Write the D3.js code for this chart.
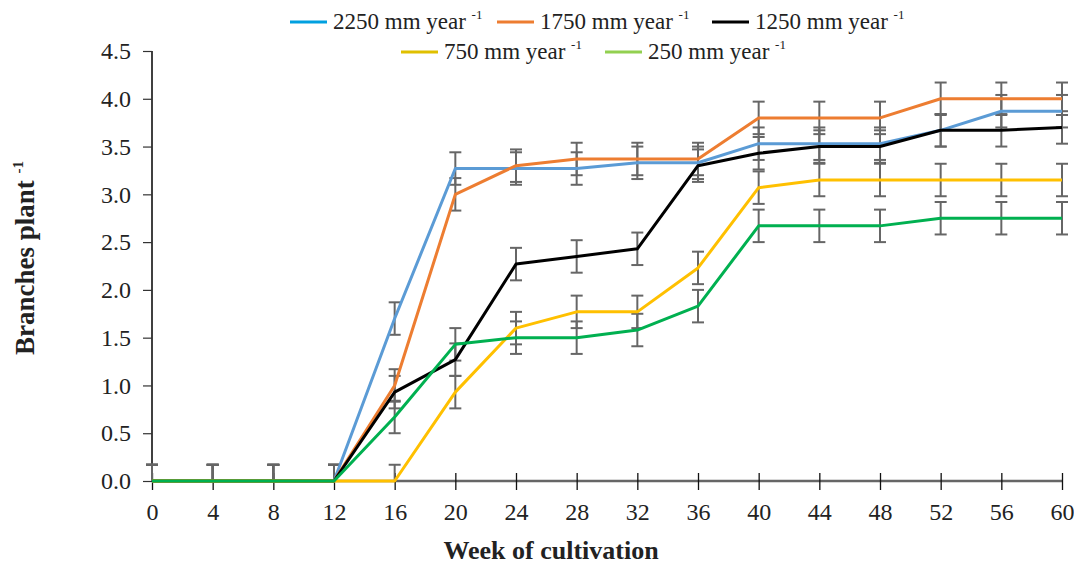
<!DOCTYPE html>
<html><head><meta charset="utf-8">
<script src="https://cdn.jsdelivr.net/npm/d3@7"></script>
<style>body{margin:0;background:#fff}svg{display:block}</style>
</head><body>
<svg id="c" width="1074" height="564"></svg>
<script>
const weeks = [0,4,8,12,16,20,24,28,32,36,40,44,48,52,56,60];
const yTicks = [0,0.5,1.0,1.5,2.0,2.5,3.0,3.5,4.0,4.5];
const seriesNames = ["2250","1750","1250","750","250"];
const v2250 = [0,0,0,0,1.70,3.27,3.27,3.27,3.33,3.33,3.53,3.53,3.53,3.67,3.87,3.87];
const v1750 = [0,0,0,0,1.00,3.00,3.30,3.37,3.37,3.37,3.80,3.80,3.80,4.00,4.00,4.00];
const v1250 = [0,0,0,0,0.93,1.27,2.27,2.35,2.43,3.30,3.43,3.50,3.50,3.67,3.67,3.70];
const v750  = [0,0,0,0,0,0.93,1.60,1.77,1.77,2.23,3.07,3.15,3.15,3.15,3.15,3.15];
const v250  = [0,0,0,0,0.67,1.43,1.50,1.50,1.58,1.83,2.67,2.67,2.67,2.75,2.75,2.75];
const errAll = [0.17,0.17,0.17,0.17,0.17,0.17,0.17,0.17,0.17,0.17,0.17,0.17,0.17,0.17,0.17,0.17];
const lineColors = ["#5B9BD5","#ED7D31","#000000","#FFC000","#00B050"];
const legendColors = ["#00A0E0","#ED7D31","#000000","#E0C000","#92D050"];
const values = [v2250,v1750,v1250,v750,v250];

const svg = d3.select("#c");
const font = "'Liberation Serif', serif";
const x = d3.scaleLinear().domain([0,60]).range([152,1062]);
const y = d3.scaleLinear().domain([0,4.5]).range([481,51]);

// y axis
const ya = svg.append("g").attr("transform","translate(152,0)")
  .call(d3.axisLeft(y).tickValues(yTicks).tickFormat(d3.format(".1f")).tickSize(9).tickPadding(12));
ya.select(".domain").attr("stroke","#000").attr("stroke-width",1.5).attr("d","M0,51V481");
ya.selectAll(".tick line").attr("stroke","#333").attr("stroke-width",1.2);
ya.selectAll("text").attr("font-family",font).attr("font-size",24).attr("fill","#222");

// x axis
const xa = svg.append("g").attr("transform","translate(0,481)")
  .call(d3.axisBottom(x).tickValues(weeks).tickSize(9).tickPadding(13));
xa.select(".domain").attr("stroke","#666").attr("stroke-width",2.5).attr("d","M152,0H1062");
xa.selectAll(".tick line").attr("stroke","#111").attr("stroke-width",1.3).attr("y1",-8).attr("y2",9);
xa.selectAll("text").attr("font-family",font).attr("font-size",24).attr("fill","#222");

// error bars
const eg = svg.append("g").attr("stroke","#666").attr("stroke-width",2);
values.forEach((vals) => {
  vals.forEach((v,i) => {
    const e = errAll[i];
    const lo = Math.max(0, v - e), hi = v + e;
    const cx = x(weeks[i]);
    eg.append("line").attr("x1",cx).attr("x2",cx).attr("y1",y(lo)).attr("y2",y(hi));
    eg.append("line").attr("x1",cx-6).attr("x2",cx+6).attr("y1",y(hi)).attr("y2",y(hi));
    if (v - e > 0) eg.append("line").attr("x1",cx-6).attr("x2",cx+6).attr("y1",y(lo)).attr("y2",y(lo));
  });
});

// lines
const line = d3.line().x((d,i)=>x(weeks[i])).y(d=>y(d));
values.forEach((vals,k) => {
  svg.append("path").datum(vals).attr("d",line).attr("fill","none")
    .attr("stroke",lineColors[k]).attr("stroke-width",3).attr("stroke-linejoin","round");
});

// legend
const legendPos = [[290,29],[497,29],[712,29],[401,59],[605,59]];
seriesNames.forEach((n,k) => {
  const [lx,ly] = legendPos[k];
  svg.append("line").attr("x1",lx).attr("x2",lx+37).attr("y1",ly-7).attr("y2",ly-7)
    .attr("stroke",legendColors[k]).attr("stroke-width",3);
  const t = svg.append("text").attr("x",lx+43).attr("y",ly).attr("font-family",font)
    .attr("font-size",23).attr("fill","#222");
  t.append("tspan").text(n + " mm year ");
  t.append("tspan").attr("font-size",13).attr("dy",-10).text("-1");
});

// axis titles
svg.append("text").attr("x",551).attr("y",559).attr("text-anchor","middle")
  .attr("font-family",font).attr("font-weight","bold").attr("font-size",26).attr("fill","#222")
  .text("Week of cultivation");
const yt = svg.append("text").attr("transform","translate(34,258) rotate(-90)").attr("text-anchor","middle")
  .attr("font-family",font).attr("font-weight","bold").attr("font-size",27).attr("fill","#222");
yt.append("tspan").text("Branches plant ");
yt.append("tspan").attr("font-size",15).attr("dy",-11).text("-1");
</script>
</body></html>
